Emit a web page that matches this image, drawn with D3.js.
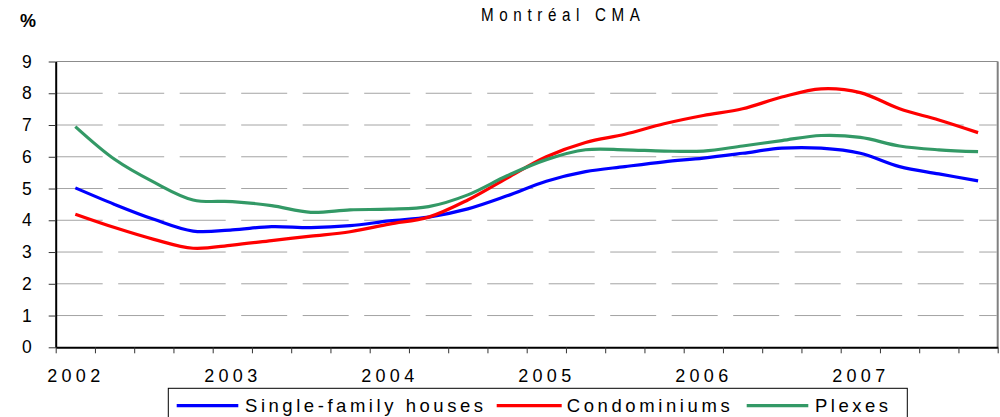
<!DOCTYPE html>
<html>
<head>
<meta charset="utf-8">
<script src="https://cdn.jsdelivr.net/npm/d3@7"></script>
<style>
  body { margin: 0; background: #fff; }
  svg { display: block; font-family: "Liberation Sans", Arial, sans-serif; }
</style>
</head>
<body>
<svg id="chart" width="1000" height="417"></svg>
<script>
// quarterly data, 2002Q1 .. 2007Q4
const years = ['2002', '2003', '2004', '2005', '2006', '2007'];
const quarters = years.flatMap(y => ['Q1', 'Q2', 'Q3', 'Q4'].map(q => y + q));
const single = [5.02, 4.50, 4.03, 3.66, 3.70, 3.80, 3.77, 3.83, 3.98, 4.10, 4.36, 4.77, 5.23, 5.53, 5.69, 5.84, 5.96, 6.11, 6.27, 6.27, 6.11, 5.69, 5.46, 5.24];
const condos = [4.19, 3.77, 3.40, 3.12, 3.22, 3.36, 3.50, 3.64, 3.88, 4.10, 4.64, 5.33, 6.00, 6.45, 6.71, 7.04, 7.30, 7.51, 7.88, 8.14, 8.02, 7.51, 7.16, 6.76];
const plexes = [6.95, 5.92, 5.20, 4.64, 4.59, 4.46, 4.25, 4.33, 4.35, 4.43, 4.80, 5.40, 5.91, 6.22, 6.22, 6.18, 6.18, 6.34, 6.51, 6.67, 6.61, 6.34, 6.22, 6.16];
const yTicks = [0, 1, 2, 3, 4, 5, 6, 7, 8, 9];
const seriesNames = ['Single-family houses', 'Condominiums', 'Plexes'];

const series = [
  { name: seriesNames[0], values: single, color: '#0000ff' },
  { name: seriesNames[1], values: condos, color: '#ff0000' },
  { name: seriesNames[2], values: plexes, color: '#339966' }
];

const svg = d3.select('#chart');
const plotLeft = 55.7, plotRight = 997.7, plotTop = 61.5, plotBottom = 347.3;

// x is a quarter index, points sit in the middle of each quarter
const x = d3.scaleLinear().domain([0, quarters.length]).range([plotLeft, plotRight]);
const y = d3.scaleLinear().domain([0, 9]).range([plotBottom, plotTop]);

// dashed gridlines
svg.append('g')
  .selectAll('line')
  .data(yTicks.filter(d => d > 0 && d < 9))
  .enter()
  .append('line')
  .attr('x1', plotLeft + 1)
  .attr('x2', plotRight - 1)
  .attr('y1', d => y(d))
  .attr('y2', d => y(d))
  .attr('stroke', '#a4a4a4')
  .attr('stroke-width', 1)
  .attr('stroke-dasharray', '46,15.5');

// frame top + right
svg.append('line')
  .attr('x1', plotLeft).attr('x2', plotRight)
  .attr('y1', y(9)).attr('y2', y(9))
  .attr('stroke', '#8c8c8c').attr('stroke-width', 1);
svg.append('line')
  .attr('x1', plotRight).attr('x2', plotRight)
  .attr('y1', y(9)).attr('y2', y(0))
  .attr('stroke', '#808080').attr('stroke-width', 2);

// y axis
const yAxis = svg.append('g')
  .attr('transform', `translate(${plotLeft},0)`)
  .call(d3.axisLeft(y).tickValues(yTicks).tickSize(7).tickSizeOuter(0).tickPadding(17).tickFormat(d3.format('d')));
yAxis.select('.domain').attr('stroke', '#000').attr('stroke-width', 2);
yAxis.selectAll('.tick line').attr('stroke', '#333');
yAxis.selectAll('text').attr('font-size', 17.5).attr('fill', '#000').attr('font-family', '"Liberation Sans", Arial, sans-serif');

// x axis: ticks between quarters
const xAxis = svg.append('g')
  .attr('transform', `translate(0,${plotBottom})`)
  .call(d3.axisBottom(x).tickValues(d3.range(quarters.length + 1)).tickSize(6).tickSizeOuter(0).tickFormat(''));
xAxis.select('.domain').attr('stroke', '#000').attr('stroke-width', 2);
xAxis.selectAll('.tick line').attr('stroke', '#333');

// year labels under first quarter of each year
const yearAxis = svg.append('g')
  .attr('transform', `translate(0,${plotBottom})`)
  .call(d3.axisBottom(x)
    .tickValues(years.map((yr, i) => i * 4 + 0.5))
    .tickSize(0)
    .tickPadding(21.6)
    .tickFormat((d, i) => years[i]));
yearAxis.select('.domain').remove();
yearAxis.selectAll('text')
  .attr('font-size', 18)
  .attr('fill', '#000')
  .attr('letter-spacing', 4.3)
  .attr('font-family', '"Liberation Sans", Arial, sans-serif');

// lines
const line = d3.line()
  .x((d, i) => x(i + 0.5))
  .y(d => y(d))
  .curve(d3.curveCatmullRom.alpha(0.5));

svg.append('g')
  .selectAll('path')
  .data(series)
  .enter()
  .append('path')
  .attr('d', d => line(d.values))
  .attr('fill', 'none')
  .attr('stroke', d => d.color)
  .attr('stroke-width', 3.2)
  .attr('stroke-linejoin', 'round');

// title and unit
svg.append('text')
  .attr('transform', 'translate(481,21) scale(0.8,1)')
  .attr('font-size', 19)
  .attr('textLength', 159 / 0.8)
  .attr('lengthAdjust', 'spacing')
  .text('Montréal CMA');

svg.append('text')
  .attr('x', 20)
  .attr('y', 27)
  .attr('font-size', 18)
  .attr('font-weight', 'bold')
  .text('%');

// legend
const legendItems = [
  { x0: 176.7, x1: 238.3, tx: 245, tw: 238 },
  { x0: 496.7, x1: 561.7, tx: 566.7, tw: 163 },
  { x0: 746.7, x1: 808.3, tx: 815, tw: 73 }
];
svg.append('rect')
  .attr('x', 168.3).attr('y', 388.3)
  .attr('width', 739).attr('height', 40)
  .attr('fill', '#fff').attr('stroke', '#000').attr('stroke-width', 1);

const legend = svg.append('g')
  .selectAll('g')
  .data(series)
  .enter()
  .append('g');
legend.append('line')
  .attr('x1', (d, i) => legendItems[i].x0)
  .attr('x2', (d, i) => legendItems[i].x1)
  .attr('y1', 405.7).attr('y2', 405.7)
  .attr('stroke', d => d.color)
  .attr('stroke-width', 3.2);
legend.append('text')
  .attr('x', (d, i) => legendItems[i].tx)
  .attr('y', 412)
  .attr('font-size', 18.5)
  .attr('textLength', (d, i) => legendItems[i].tw)
  .attr('lengthAdjust', 'spacing')
  .text(d => d.name);
</script>
</body>
</html>
